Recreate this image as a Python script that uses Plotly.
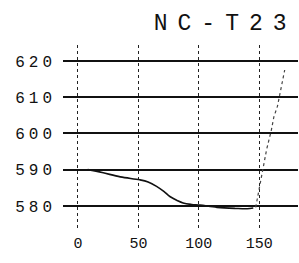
import plotly.graph_objects as go

# data
x_main = [8, 20, 35, 51, 58, 65, 71, 76, 82, 87, 94, 101, 115, 130, 140, 145]
y_main = [590, 589.2, 588.0, 587.2, 586.6, 585.4, 584.0, 582.6, 581.5, 580.8, 580.4, 580.2, 579.6, 579.3, 579.2, 579.4]

x_rise = [147, 149, 152, 156, 160, 162, 165, 167, 169, 171]
y_rise = [579.6, 583, 588, 595.5, 601, 604.5, 607.5, 611, 614, 617.5]

y_ticks = [580, 590, 600, 610, 620]
x_ticks = [0, 50, 100, 150]
title_text = "NC-T23"

font_family = "Liberation Mono, DejaVu Sans Mono, monospace"

fig = go.Figure()
fig.add_trace(go.Scatter(x=x_main, y=y_main, mode="lines",
                         line=dict(color="#111", width=1.6, shape="spline"),
                         showlegend=False))
fig.add_trace(go.Scatter(x=x_rise, y=y_rise, mode="lines",
                         line=dict(color="#444", width=1.2, dash="dot"),
                         showlegend=False))

fig.update_layout(
    width=299, height=263,
    margin=dict(l=63, r=1, t=45, b=35),
    paper_bgcolor="white", plot_bgcolor="white",
    font=dict(family=font_family, color="#111", size=15),
    title=dict(text='<span style="letter-spacing:10px">' + title_text + '</span>',
               x=0.69, xref="paper", xanchor="center",
               y=1 - 22 / 263, yref="container", yanchor="middle",
               font=dict(family=font_family, size=23, color="#111")),
    xaxis=dict(range=[-12.4, 182], tickvals=x_ticks,
               ticktext=[str(v) for v in x_ticks],
               showgrid=True, gridcolor="#222", griddash="dot", gridwidth=1,
               zeroline=False, showline=False, ticks="", ticklabelstandoff=4,
               tickfont=dict(size=15, family=font_family)),
    yaxis=dict(range=[573.9, 624.4], tickvals=y_ticks,
               ticktext=['<span style="letter-spacing:4px">%d</span>' % v for v in y_ticks],
               showgrid=True, gridcolor="#111", gridwidth=1.5,
               zeroline=False, showline=False, ticks="", ticklabelstandoff=6,
               tickfont=dict(size=16, family=font_family)),
)

fig.write_html("out.html", config={"displayModeBar": False},
               post_script="document.body.style.margin='0';")
